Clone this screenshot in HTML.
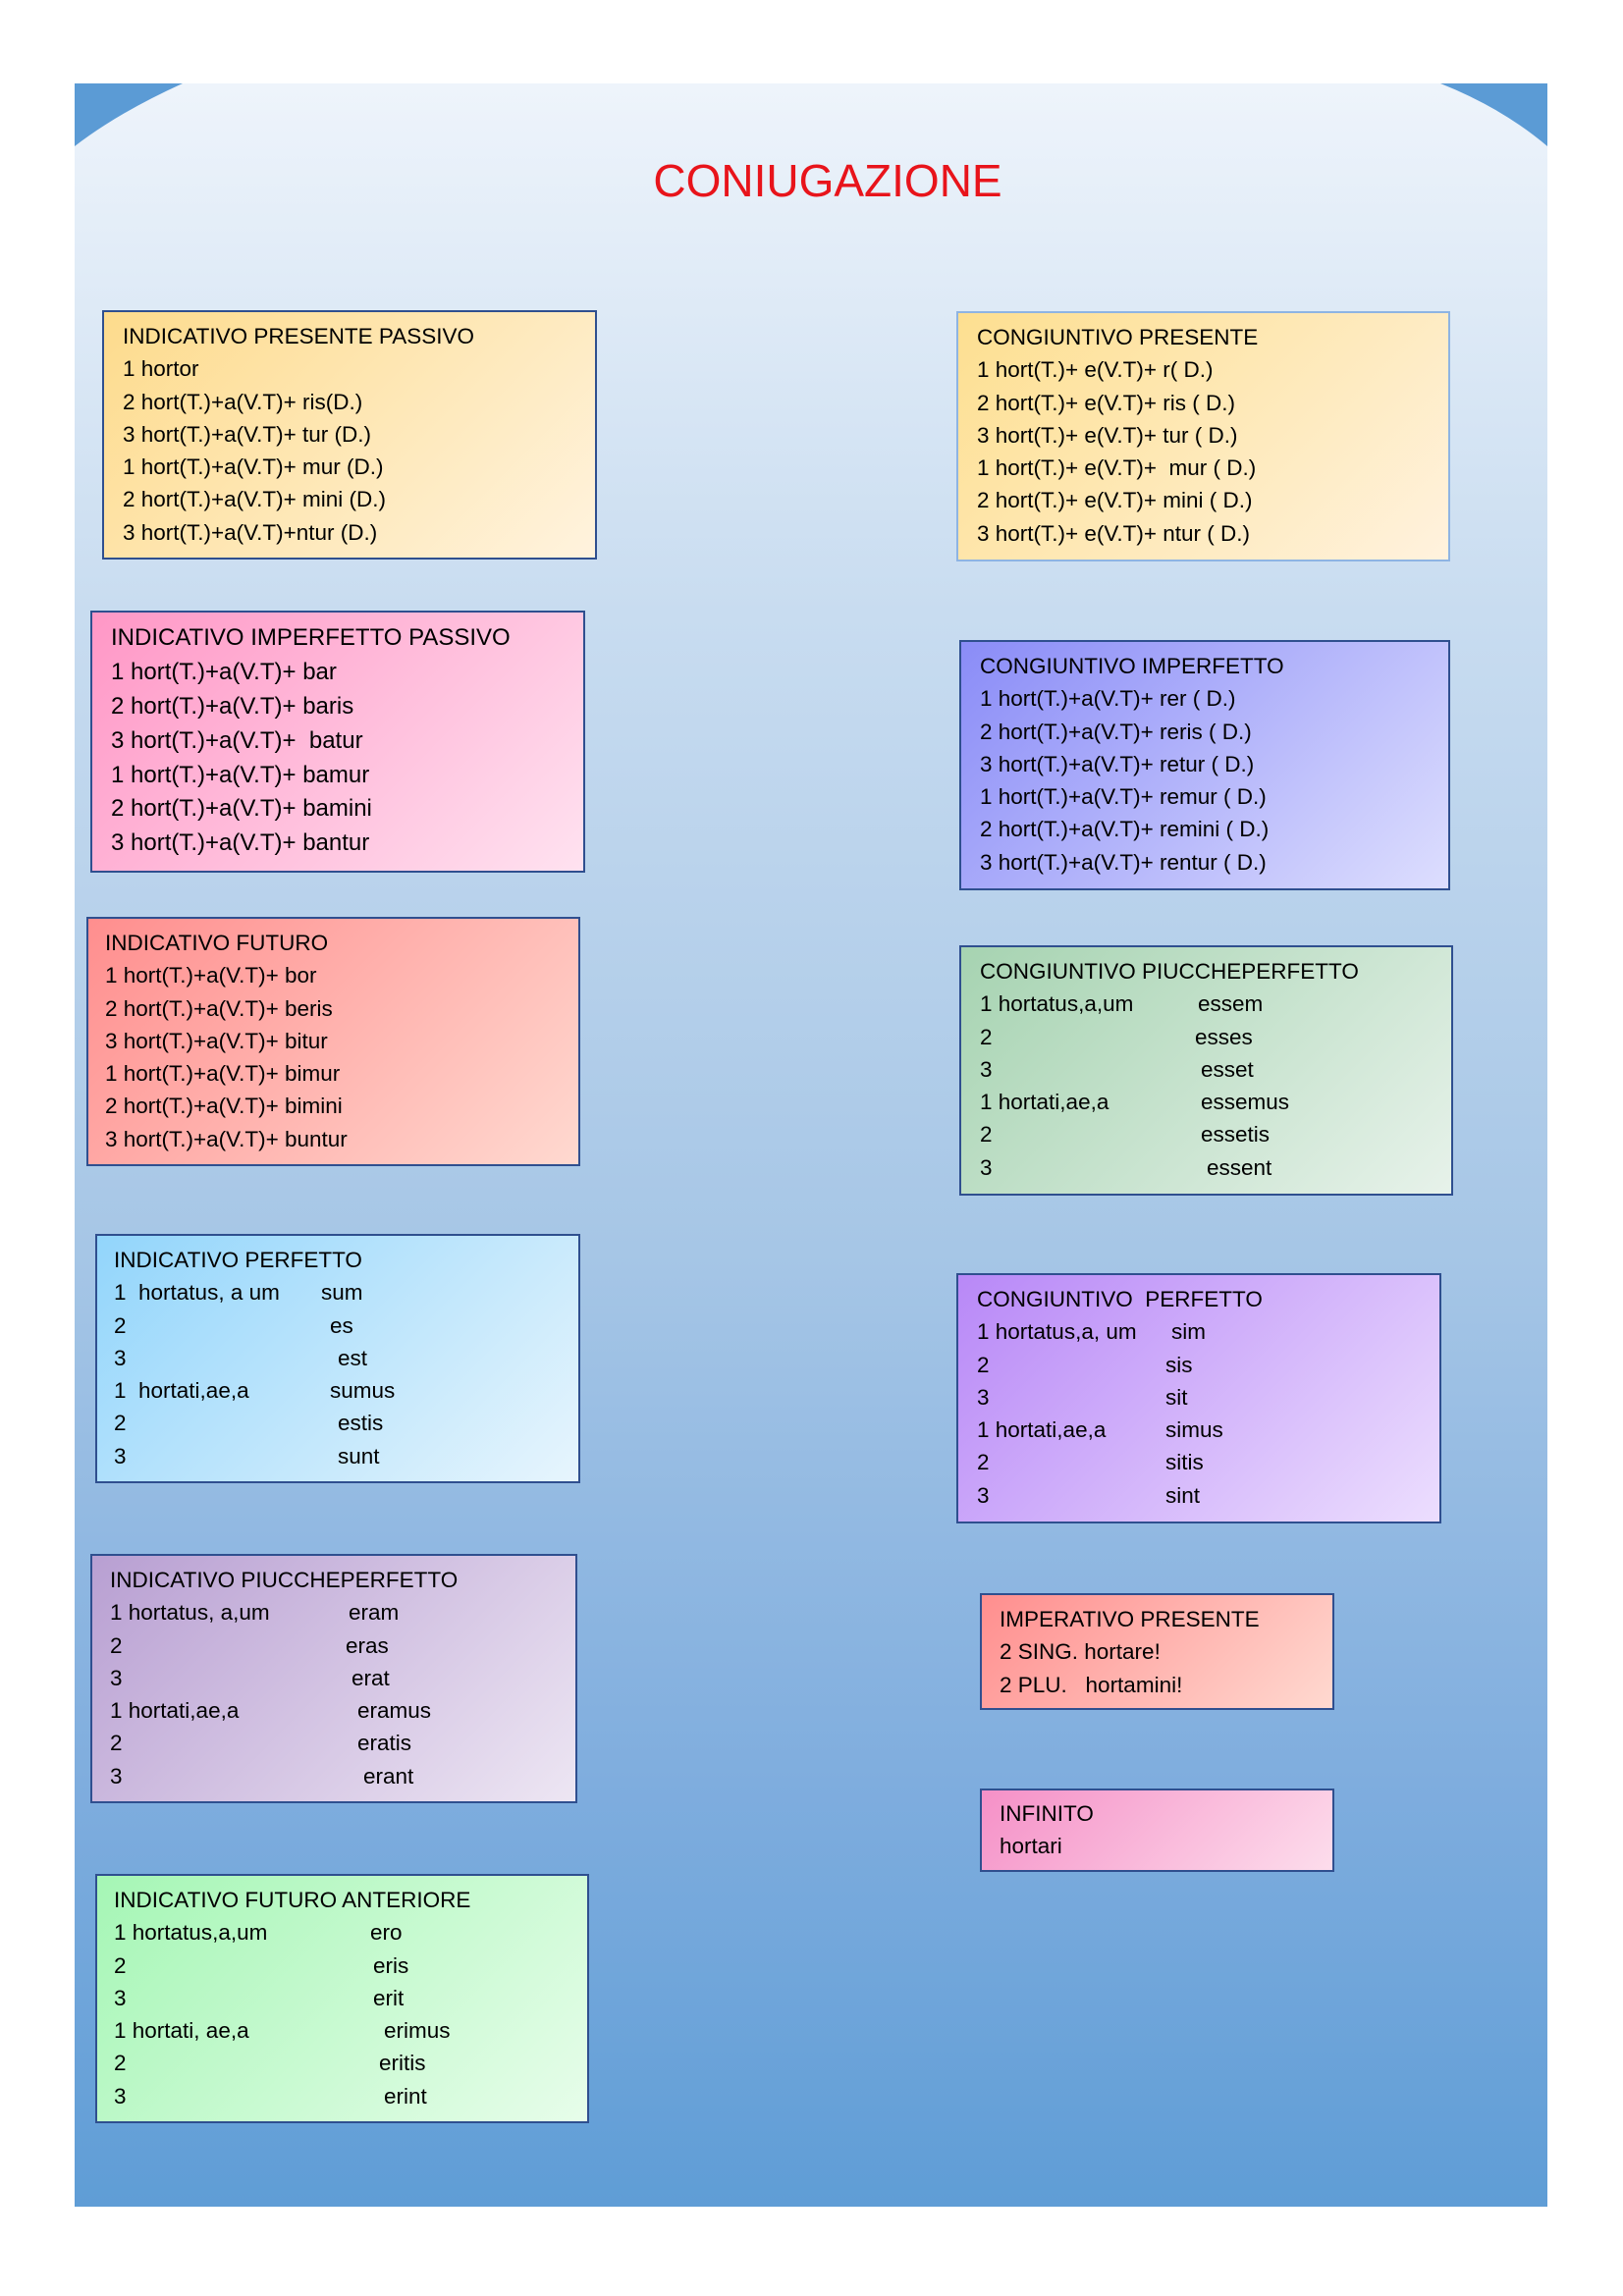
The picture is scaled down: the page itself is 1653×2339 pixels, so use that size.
<!DOCTYPE html>
<html><head><meta charset="utf-8"><style>
body{margin:0;width:1653px;height:2339px;position:relative;background:#fff;font-family:"Liberation Sans",sans-serif;overflow:hidden}
.panel{position:absolute;left:76px;top:85px;width:1500px;height:2163px;background:linear-gradient(180deg,#eef4fb 0%,#c8dcf0 25%,#a6c6e6 55%,#7fadde 80%,#5f9dd6 100%)}
.b{position:absolute;border:2px solid #2f4f8f;box-sizing:border-box}
.t{position:absolute;font-size:22.5px;line-height:33.3px;color:#000;white-space:pre}
.t div{position:relative;height:33.3px}
.t span{position:absolute;top:0}
</style></head><body>
<div class="panel"></div>
<svg style="position:absolute;left:0;top:0" width="1653" height="300">
<path d="M76,85 L186,85 Q120,115 76,149 Z" fill="#5b9bd5"/>
<path d="M1467,85 L1576,85 L1576,149 Q1530,110 1467,85 Z" fill="#5b9bd5"/>
</svg>
<div style="position:absolute;left:0;width:1686px;top:154px;text-align:center;color:#e8141b;font-size:46px;line-height:60px">CONIUGAZIONE</div>

<div class="b" style="left:104px;top:316px;width:504px;height:254px;background:linear-gradient(135deg,#fddb8c,#fff3de)"></div>
<div class="b" style="left:92px;top:622px;width:504px;height:267px;background:linear-gradient(135deg,#ff97c6,#ffe2f0)"></div>
<div class="b" style="left:88px;top:934px;width:503px;height:254px;background:linear-gradient(135deg,#ff8e8e,#ffd9d0)"></div>
<div class="b" style="left:97px;top:1257px;width:494px;height:254px;background:linear-gradient(135deg,#92d5fb,#e7f5fd)"></div>
<div class="b" style="left:92px;top:1583px;width:496px;height:254px;background:linear-gradient(135deg,#b89fd2,#ede6f3)"></div>
<div class="b" style="left:97px;top:1909px;width:503px;height:254px;background:linear-gradient(135deg,#a5f6b5,#e7fdea)"></div>
<div class="b" style="left:974px;top:317px;width:503px;height:255px;border-color:#8eb4e3;background:linear-gradient(135deg,#fddf90,#fff2de)"></div>
<div class="b" style="left:977px;top:652px;width:500px;height:255px;background:linear-gradient(135deg,#8a8cf7,#dddefe)"></div>
<div class="b" style="left:977px;top:963px;width:503px;height:255px;background:linear-gradient(135deg,#a6d3b1,#e7f2ea)"></div>
<div class="b" style="left:974px;top:1297px;width:494px;height:255px;background:linear-gradient(135deg,#b888f7,#ecdefe)"></div>
<div class="b" style="left:998px;top:1623px;width:361px;height:119px;background:linear-gradient(135deg,#ff8e8e,#ffd9d0)"></div>
<div class="b" style="left:998px;top:1822px;width:361px;height:85px;background:linear-gradient(135deg,#f590c7,#fdddec)"></div>

<div class="t" style="left:125px;top:326px"><div>INDICATIVO PRESENTE PASSIVO</div><div>1 hortor</div><div>2 hort(T.)+a(V.T)+ ris(D.)</div><div>3 hort(T.)+a(V.T)+ tur (D.)</div><div>1 hort(T.)+a(V.T)+ mur (D.)</div><div>2 hort(T.)+a(V.T)+ mini (D.)</div><div>3 hort(T.)+a(V.T)+ntur (D.)</div></div>

<div class="t" style="left:113px;top:633px;font-size:24px;line-height:34.9px"><div style="height:34.9px">INDICATIVO IMPERFETTO PASSIVO</div><div style="height:34.9px">1 hort(T.)+a(V.T)+ bar</div><div style="height:34.9px">2 hort(T.)+a(V.T)+ baris</div><div style="height:34.9px">3 hort(T.)+a(V.T)+  batur</div><div style="height:34.9px">1 hort(T.)+a(V.T)+ bamur</div><div style="height:34.9px">2 hort(T.)+a(V.T)+ bamini</div><div style="height:34.9px">3 hort(T.)+a(V.T)+ bantur</div></div>

<div class="t" style="left:107px;top:944px"><div>INDICATIVO FUTURO</div><div>1 hort(T.)+a(V.T)+ bor</div><div>2 hort(T.)+a(V.T)+ beris</div><div>3 hort(T.)+a(V.T)+ bitur</div><div>1 hort(T.)+a(V.T)+ bimur</div><div>2 hort(T.)+a(V.T)+ bimini</div><div>3 hort(T.)+a(V.T)+ buntur</div></div>

<div class="t" style="left:116px;top:1267px"><div>INDICATIVO PERFETTO</div><div>1  hortatus, a um<span style="left:211px">sum</span></div><div>2<span style="left:220px">es</span></div><div>3<span style="left:228px">est</span></div><div>1  hortati,ae,a<span style="left:220px">sumus</span></div><div>2<span style="left:228px">estis</span></div><div>3<span style="left:228px">sunt</span></div></div>

<div class="t" style="left:112px;top:1593px"><div>INDICATIVO PIUCCHEPERFETTO</div><div>1 hortatus, a,um<span style="left:243px">eram</span></div><div>2<span style="left:240px">eras</span></div><div>3<span style="left:246px">erat</span></div><div>1 hortati,ae,a<span style="left:252px">eramus</span></div><div>2<span style="left:252px">eratis</span></div><div>3<span style="left:258px">erant</span></div></div>

<div class="t" style="left:116px;top:1919px"><div>INDICATIVO FUTURO ANTERIORE</div><div>1 hortatus,a,um<span style="left:261px">ero</span></div><div>2<span style="left:264px">eris</span></div><div>3<span style="left:264px">erit</span></div><div>1 hortati, ae,a<span style="left:275px">erimus</span></div><div>2<span style="left:270px">eritis</span></div><div>3<span style="left:275px">erint</span></div></div>

<div class="t" style="left:995px;top:327px"><div>CONGIUNTIVO PRESENTE</div><div>1 hort(T.)+ e(V.T)+ r( D.)</div><div>2 hort(T.)+ e(V.T)+ ris ( D.)</div><div>3 hort(T.)+ e(V.T)+ tur ( D.)</div><div>1 hort(T.)+ e(V.T)+  mur ( D.)</div><div>2 hort(T.)+ e(V.T)+ mini ( D.)</div><div>3 hort(T.)+ e(V.T)+ ntur ( D.)</div></div>

<div class="t" style="left:998px;top:662px"><div>CONGIUNTIVO IMPERFETTO</div><div>1 hort(T.)+a(V.T)+ rer ( D.)</div><div>2 hort(T.)+a(V.T)+ reris ( D.)</div><div>3 hort(T.)+a(V.T)+ retur ( D.)</div><div>1 hort(T.)+a(V.T)+ remur ( D.)</div><div>2 hort(T.)+a(V.T)+ remini ( D.)</div><div>3 hort(T.)+a(V.T)+ rentur ( D.)</div></div>

<div class="t" style="left:998px;top:973px"><div>CONGIUNTIVO PIUCCHEPERFETTO</div><div>1 hortatus,a,um<span style="left:222px">essem</span></div><div>2<span style="left:219px">esses</span></div><div>3<span style="left:225px">esset</span></div><div>1 hortati,ae,a<span style="left:225px">essemus</span></div><div>2<span style="left:225px">essetis</span></div><div>3<span style="left:231px">essent</span></div></div>

<div class="t" style="left:995px;top:1307px"><div>CONGIUNTIVO  PERFETTO</div><div>1 hortatus,a, um<span style="left:198px">sim</span></div><div>2<span style="left:192px">sis</span></div><div>3<span style="left:192px">sit</span></div><div>1 hortati,ae,a<span style="left:192px">simus</span></div><div>2<span style="left:192px">sitis</span></div><div>3<span style="left:192px">sint</span></div></div>

<div class="t" style="left:1018px;top:1633px"><div>IMPERATIVO PRESENTE</div><div>2 SING. hortare!</div><div>2 PLU.   hortamini!</div></div>

<div class="t" style="left:1018px;top:1831px"><div>INFINITO</div><div>hortari</div></div>
</body></html>
